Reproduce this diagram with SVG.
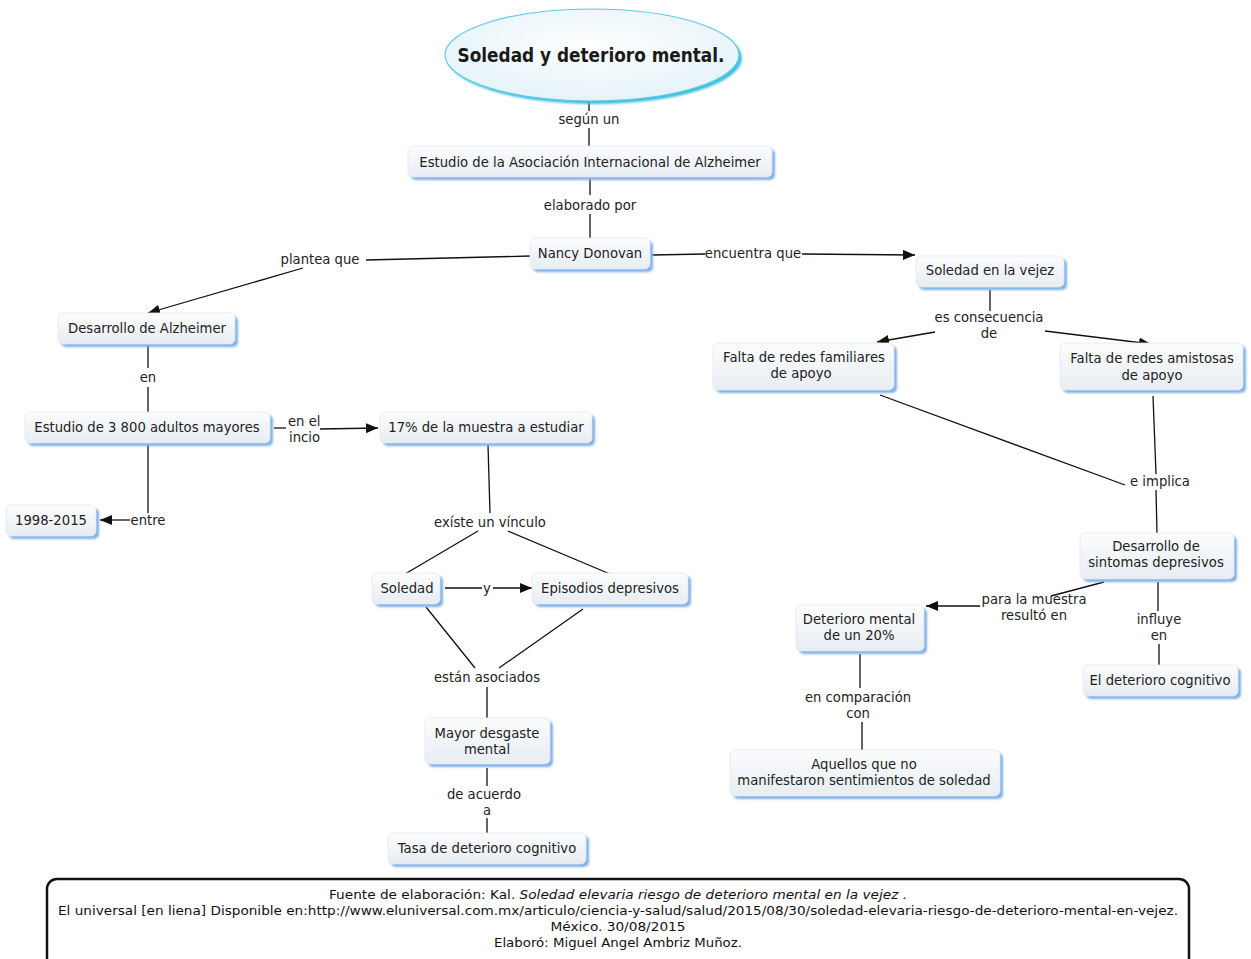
<svg xmlns="http://www.w3.org/2000/svg" width="1251" height="959" viewBox="0 0 1251 959">
  <style>
    .box { fill: url(#boxFill); stroke: #e2e9f0; stroke-width: 0.8; }
    .sh { fill: #80b0ea; filter: url(#soft); }
    .t { font-family: "DejaVu Sans", Verdana, sans-serif; font-size: 13.2px; fill: #222; text-anchor: middle; }
    .lbl { font-family: "DejaVu Sans", Verdana, sans-serif; font-size: 13.2px; fill: #222; text-anchor: middle; }
    .lbl.start { text-anchor: start; }
    .ln { stroke: #111; stroke-width: 1.3; fill: none; }
    .arr { stroke: #111; stroke-width: 1.3; fill: none; marker-end: url(#ah); }
    .foot { font-family: "DejaVu Sans", Verdana, sans-serif; font-size: 12.5px; fill: #111; text-anchor: middle; }
  </style>
  <defs>
    <linearGradient id="boxFill" x1="0" y1="0" x2="0" y2="1">
      <stop offset="0" stop-color="#fbfcfd"/>
      <stop offset="1" stop-color="#e8edf3"/>
    </linearGradient>
    <radialGradient id="ovalFill" cx="0.5" cy="0.4" r="0.6">
      <stop offset="0" stop-color="#ffffff"/>
      <stop offset="1" stop-color="#e4f3f8"/>
    </radialGradient>
    <filter id="soft" x="-10%" y="-30%" width="120%" height="160%">
      <feGaussianBlur stdDeviation="1.2"/>
    </filter>
    <marker id="ah" viewBox="0 0 12 10" refX="12" refY="5" markerWidth="12" markerHeight="10" markerUnits="userSpaceOnUse" orient="auto">
      <path d="M0,0 L12,5 L0,10 Z" fill="#111"/>
    </marker>
  </defs>

  <rect width="1251" height="959" fill="#ffffff"/>

  <!-- connectors and linking phrases -->
  <g id="connectors">
    <path class="ln" d="M589,102 V111 M589,128 V146"/>
    <text class="lbl" x="589" y="124">según un</text>

    <path class="ln" d="M590,178 V195 M590,214 V238"/>
    <text class="lbl" x="590" y="210">elaborado por</text>

    <path class="ln" d="M530,256 L366,260"/>
    <path class="arr" d="M303,268 L148,313"/>
    <text class="lbl" x="320" y="264">plantea que</text>

    <path class="ln" d="M652,255 L705,254"/>
    <path class="arr" d="M802,254 L915,255"/>
    <text class="lbl" x="753" y="258">encuentra que</text>

    <path class="ln" d="M148,345 V368 M148,387 V412"/>
    <text class="lbl" x="148" y="382">en</text>

    <path class="ln" d="M274,428 H286"/>
    <path class="arr" d="M320,429 L378,428"/>
    <text class="lbl start" x="288" y="426">en el</text>
    <text class="lbl start" x="289" y="442">incio</text>

    <path class="ln" d="M148,445 V513"/>
    <path class="arr" d="M130,520 L100,520"/>
    <text class="lbl" x="148" y="525">entre</text>

    <path class="ln" d="M488,445 L490,513"/>
    <text class="lbl" x="490" y="527">exíste un vínculo</text>
    <path class="ln" d="M478,531 L405,574 M508,531 L610,574"/>

    <path class="ln" d="M445,588 H482"/>
    <path class="arr" d="M493,588 L532,588"/>
    <text class="lbl" x="487" y="593">y</text>

    <path class="ln" d="M426,607 L475,668 M583,609 L499,668"/>
    <text class="lbl" x="487" y="682">están asociados</text>
    <path class="ln" d="M487,687 V718"/>

    <path class="ln" d="M487,768 V786 M487,818 V834"/>
    <text class="lbl" x="484" y="799">de acuerdo</text>
    <text class="lbl" x="487" y="815">a</text>

    <path class="ln" d="M990,290 V311"/>
    <text class="lbl" x="989" y="322">es consecuencia</text>
    <text class="lbl" x="989" y="338">de</text>
    <path class="arr" d="M935,332 L877,342"/>
    <path class="arr" d="M1045,331 L1151,344"/>

    <path class="ln" d="M880,395 L1125,485"/>
    <path class="ln" d="M1153,396 L1156,474 M1156,490 L1157,533"/>
    <text class="lbl" x="1160" y="486">e implica</text>

    <path class="ln" d="M1104,582 L1051,596"/>
    <path class="arr" d="M980,606 L926,606"/>
    <text class="lbl" x="1034" y="604">para la muestra</text>
    <text class="lbl" x="1034" y="620">resultó en</text>

    <path class="ln" d="M1158,582 V611 M1159,644 V665"/>
    <text class="lbl" x="1159" y="624">influye</text>
    <text class="lbl" x="1159" y="640">en</text>

    <path class="ln" d="M860,654 V688 M862,722 V750"/>
    <text class="lbl" x="858" y="702">en comparación</text>
    <text class="lbl" x="858" y="718">con</text>
  </g>

  <!-- title -->
  <g id="title">
    <ellipse cx="595" cy="58" rx="147" ry="46" fill="#3cbfe2" filter="url(#soft)"/>
    <ellipse cx="592" cy="55" rx="147" ry="46" fill="url(#ovalFill)" stroke="#62c9e3" stroke-width="1.2"/>
    <text x="591" y="62" font-family="'DejaVu Sans', sans-serif" font-weight="bold" font-size="19" fill="#1a1a1a" text-anchor="middle" textLength="267" lengthAdjust="spacingAndGlyphs">Soledad y deterioro mental.</text>
  </g>

  <g id="n-estudio-asociacion">
    <rect class="sh" x="411" y="149" width="364" height="31" rx="5"/>
    <rect class="box" x="408" y="146" width="364" height="31" rx="5"/>
    <text class="t" x="590" y="167">Estudio de la Asociación Internacional de Alzheimer</text>
  </g>

  <g id="n-nancy">
    <rect class="sh" x="533" y="241" width="120" height="31" rx="5"/>
    <rect class="box" x="530" y="238" width="120" height="31" rx="5"/>
    <text class="t" x="590" y="258">Nancy Donovan</text>
  </g>

  <g id="n-soledad-vejez">
    <rect class="sh" x="919" y="259" width="148" height="31" rx="5"/>
    <rect class="box" x="916" y="256" width="148" height="31" rx="5"/>
    <text class="t" x="990" y="275">Soledad en la vejez</text>
  </g>

  <g id="n-desarrollo-alzheimer">
    <rect class="sh" x="61" y="316" width="177" height="31" rx="5"/>
    <rect class="box" x="58" y="313" width="177" height="31" rx="5"/>
    <text class="t" x="147" y="333">Desarrollo de Alzheimer</text>
  </g>

  <g id="n-estudio-3800">
    <rect class="sh" x="28" y="415" width="245" height="31" rx="5"/>
    <rect class="box" x="25" y="412" width="245" height="31" rx="5"/>
    <text class="t" x="147" y="432">Estudio de 3 800 adultos mayores</text>
  </g>

  <g id="n-17">
    <rect class="sh" x="383" y="415" width="212" height="31" rx="5"/>
    <rect class="box" x="380" y="412" width="212" height="31" rx="5"/>
    <text class="t" x="486" y="432">17% de la muestra a estudiar</text>
  </g>

  <g id="n-1998">
    <rect class="sh" x="9" y="508" width="90" height="31" rx="5"/>
    <rect class="box" x="6" y="505" width="90" height="31" rx="5"/>
    <text class="t" x="51" y="525">1998-2015</text>
  </g>

  <g id="n-soledad">
    <rect class="sh" x="375" y="576" width="68" height="31" rx="5"/>
    <rect class="box" x="372" y="573" width="68" height="31" rx="5"/>
    <text class="t" x="407" y="593">Soledad</text>
  </g>

  <g id="n-episodios">
    <rect class="sh" x="535" y="576" width="156" height="31" rx="5"/>
    <rect class="box" x="532" y="573" width="156" height="31" rx="5"/>
    <text class="t" x="610" y="593">Episodios depresivos</text>
  </g>

  <g id="n-mayor-desgaste">
    <rect class="sh" x="428" y="721" width="125" height="46" rx="5"/>
    <rect class="box" x="425" y="718" width="125" height="46" rx="5"/>
    <text class="t" x="487" y="738">Mayor desgaste</text>
    <text class="t" x="487" y="754">mental</text>
  </g>

  <g id="n-tasa">
    <rect class="sh" x="391" y="836" width="198" height="31" rx="5"/>
    <rect class="box" x="388" y="833" width="198" height="31" rx="5"/>
    <text class="t" x="487" y="853">Tasa de deterioro cognitivo</text>
  </g>

  <g id="n-falta-familiares">
    <rect class="sh" x="716" y="346" width="181" height="47" rx="5"/>
    <rect class="box" x="713" y="343" width="181" height="47" rx="5"/>
    <text class="t" x="804" y="362">Falta de redes familiares</text>
    <text class="t" x="801" y="378">de apoyo</text>
  </g>

  <g id="n-falta-amistosas">
    <rect class="sh" x="1063" y="346" width="183" height="47" rx="5"/>
    <rect class="box" x="1060" y="343" width="183" height="47" rx="5"/>
    <text class="t" x="1152" y="363">Falta de redes amistosas</text>
    <text class="t" x="1152" y="380">de apoyo</text>
  </g>

  <g id="n-sintomas">
    <rect class="sh" x="1083" y="536" width="154" height="46" rx="5"/>
    <rect class="box" x="1080" y="533" width="154" height="46" rx="5"/>
    <text class="t" x="1156" y="551">Desarrollo de</text>
    <text class="t" x="1156" y="567">sintomas depresivos</text>
  </g>

  <g id="n-deterioro-20">
    <rect class="sh" x="799" y="608" width="128" height="46" rx="5"/>
    <rect class="box" x="796" y="605" width="128" height="46" rx="5"/>
    <text class="t" x="859" y="624">Deterioro mental</text>
    <text class="t" x="859" y="640">de un 20%</text>
  </g>

  <g id="n-deterioro-cognitivo">
    <rect class="sh" x="1086" y="668" width="155" height="31" rx="5"/>
    <rect class="box" x="1083" y="665" width="155" height="31" rx="5"/>
    <text class="t" x="1160" y="685">El deterioro cognitivo</text>
  </g>

  <g id="n-aquellos">
    <rect class="sh" x="733" y="753" width="270" height="46" rx="5"/>
    <rect class="box" x="730" y="750" width="270" height="46" rx="5"/>
    <text class="t" x="864" y="769">Aquellos que no</text>
    <text class="t" x="864" y="785">manifestaron sentimientos de soledad</text>
  </g>

  <!-- source note -->
  <g id="source">
    <rect x="47" y="879" width="1142" height="100" rx="10" fill="#ffffff" stroke="#111" stroke-width="2.5"/>
    <text class="foot" x="618" y="899" textLength="578" lengthAdjust="spacingAndGlyphs">Fuente de elaboración: Kal. <tspan font-style="italic">Soledad elevaria riesgo de deterioro mental en la vejez .</tspan></text>
    <text class="foot" x="618" y="915" textLength="1120" lengthAdjust="spacingAndGlyphs">El universal [en liena] Disponible en:http://www.eluniversal.com.mx/articulo/ciencia-y-salud/salud/2015/08/30/soledad-elevaria-riesgo-de-deterioro-mental-en-vejez.</text>
    <text class="foot" x="618" y="931" textLength="135" lengthAdjust="spacingAndGlyphs">México. 30/08/2015</text>
    <text class="foot" x="618" y="947" textLength="248" lengthAdjust="spacingAndGlyphs">Elaboró: Miguel Angel Ambriz Muñoz.</text>
  </g>
</svg>
